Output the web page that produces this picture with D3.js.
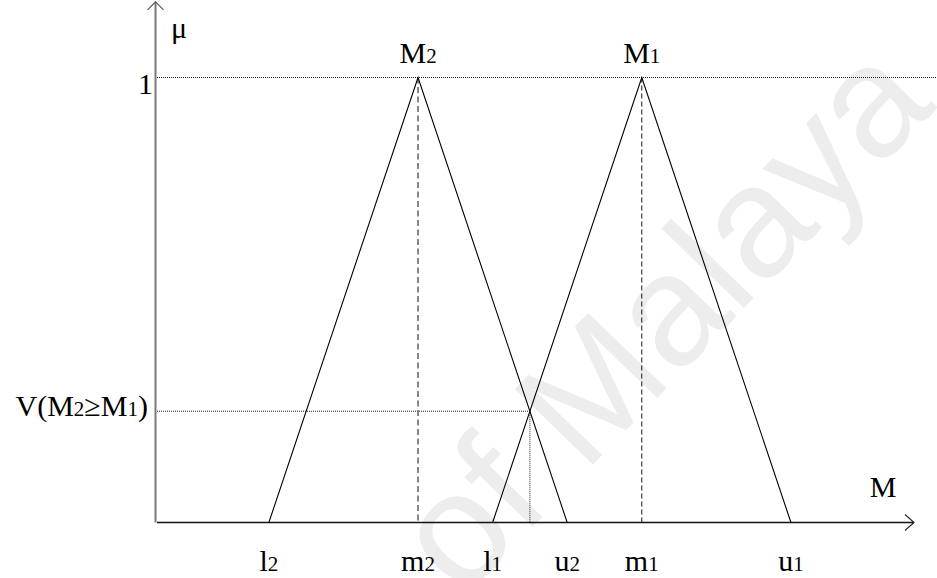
<!DOCTYPE html>
<html>
<head>
<meta charset="utf-8">
<script src="https://cdn.jsdelivr.net/npm/d3@7"></script>
<style>
  html, body { margin: 0; padding: 0; background: #fff; }
  svg { display: block; }
  text { font-family: "Liberation Serif", "Times New Roman", serif; fill: #000; }
</style>
</head>
<body>
<svg id="chart" width="937" height="578"></svg>
<script>
// Two triangular fuzzy numbers (l, m, u) on a shared M axis
const fuzzyNames = ["M2", "M1"];
const lowerVals = [3, 9];
const modalVals = [7, 13];
const upperVals = [11, 17];

// Axis tick labels (main letter + subscript) and where they sit
const tickMain = ["l", "m", "l", "u", "m", "u"];
const tickSub  = ["2", "2", "1", "2", "1", "1"];
const tickVals = [3, 7, 9, 11, 13, 17];

// Axis extents
const xAxisMax = 20.3;
const yAxisMax = 1.17;
const muLevels = [0, 1];

const svg = d3.select("#chart");

const x = d3.scaleLinear().domain([0, xAxisMax]).range([157, 914]);
const y = d3.scaleLinear().domain([0, 1]).range([522.5, 77.5]);

// Degree of possibility V(M2 >= M1): height of the crossing point
const [l1, m1] = [lowerVals[1], modalVals[1]];
const [m2, u2] = [modalVals[0], upperVals[0]];
const vHeight = (l1 - u2) / ((m2 - u2) - (m1 - l1));
const vX = l1 + vHeight * (m1 - l1);

// Faint background lettering
svg.append("text")
  .attr("transform", "translate(462,600) rotate(-46)")
  .style("font-family", "'Liberation Sans', Arial, sans-serif")
  .style("font-size", "158px")
  .style("fill", "#ededed")
  .text("of Malaya");

const line = d3.line().x(d => x(d[0])).y(d => y(d[1]));

// Membership = 1 reference line
svg.append("path")
  .attr("d", line([[0, 1], [xAxisMax * 1.03, 1]]))
  .attr("fill", "none").attr("stroke", "#222").attr("stroke-width", 1)
  .attr("stroke-dasharray", "1,1");

// V level guide lines
svg.append("path")
  .attr("d", line([[0, vHeight], [vX, vHeight]]))
  .attr("fill", "none").attr("stroke", "#222").attr("stroke-width", 1)
  .attr("stroke-dasharray", "1,1");
svg.append("path")
  .attr("d", line([[vX, vHeight], [vX, 0]]))
  .attr("fill", "none").attr("stroke", "#222").attr("stroke-width", 1)
  .attr("stroke-dasharray", "1,1");

// Dashed drops from each peak
const dropStyles = [
  { stroke: "#6a6a6a", width: 1.6, dash: "6,3.5" },
  { stroke: "#111", width: 1, dash: "5,3" }
];
modalVals.forEach((m, i) => {
  svg.append("path")
    .attr("d", line([[m, 1], [m, 0]]))
    .attr("fill", "none")
    .attr("stroke", dropStyles[i].stroke)
    .attr("stroke-width", dropStyles[i].width)
    .attr("stroke-dasharray", dropStyles[i].dash);
});

// Triangles
fuzzyNames.forEach((name, i) => {
  svg.append("path")
    .attr("d", line([[lowerVals[i], 0], [modalVals[i], 1], [upperVals[i], 0]]))
    .attr("fill", "none").attr("stroke", "#000").attr("stroke-width", 1.1);
});

// Axes with open arrowheads
svg.append("path")
  .attr("d", line([[0, 0], [xAxisMax, 0]]))
  .attr("stroke", "#111").attr("stroke-width", 1.4).attr("fill", "none");
svg.append("path")
  .attr("d", `M${x(xAxisMax) - 9},${y(0) - 8}L${x(xAxisMax)},${y(0)}L${x(xAxisMax) - 9},${y(0) + 8}`)
  .attr("stroke", "#222").attr("stroke-width", 1.1).attr("fill", "none");

const yAxisX = x(0) - 1.5;
svg.append("path")
  .attr("d", `M${yAxisX},${y(0)}L${yAxisX},${y(yAxisMax)}`)
  .attr("stroke", "#7a7a7a").attr("stroke-width", 2).attr("fill", "none");
svg.append("path")
  .attr("d", `M${yAxisX - 8},${y(yAxisMax) + 8}L${yAxisX},${y(yAxisMax)}L${yAxisX + 8},${y(yAxisMax) + 8}`)
  .attr("stroke", "#555").attr("stroke-width", 1.1).attr("fill", "none");

// Text helper: main letters with a small subscript on the same baseline
const MAIN = 30, SUB = 21;
function subText(g, parts) {
  parts.forEach(([s, small]) => {
    g.append("tspan").style("font-size", (small ? SUB : MAIN) + "px").text(s);
  });
  return g;
}

// Tick labels under the axis
tickVals.forEach((v, i) => {
  const t = svg.append("text")
    .attr("x", x(v)).attr("y", 571)
    .attr("text-anchor", "middle");
  subText(t, [[tickMain[i], false], [tickSub[i], true]]);
});

// Triangle names above the peaks
fuzzyNames.forEach((name, i) => {
  const t = svg.append("text")
    .attr("x", x(modalVals[i])).attr("y", 63)
    .attr("text-anchor", "middle");
  subText(t, [[name[0], false], [name.slice(1), true]]);
});

// y labels
muLevels.filter(v => v === 1).forEach(v => {
  svg.append("text")
    .attr("x", x(0) - 4).attr("y", y(v) + 16)
    .attr("text-anchor", "end")
    .style("font-size", MAIN + "px")
    .text(String(v));
});

const vLabel = svg.append("text")
  .attr("x", x(0) - 9).attr("y", y(vHeight) + 5)
  .attr("text-anchor", "end");
subText(vLabel, [["V(M", false], ["2", true], ["\u2265M", false], ["1", true], [")", false]]);

svg.append("text")
  .attr("x", x(0) + 14).attr("y", 38)
  .style("font-size", MAIN + "px")
  .text("\u03bc");

svg.append("text")
  .attr("x", 883).attr("y", 497)
  .attr("text-anchor", "middle")
  .style("font-size", MAIN + "px")
  .text("M");
</script>
</body>
</html>
